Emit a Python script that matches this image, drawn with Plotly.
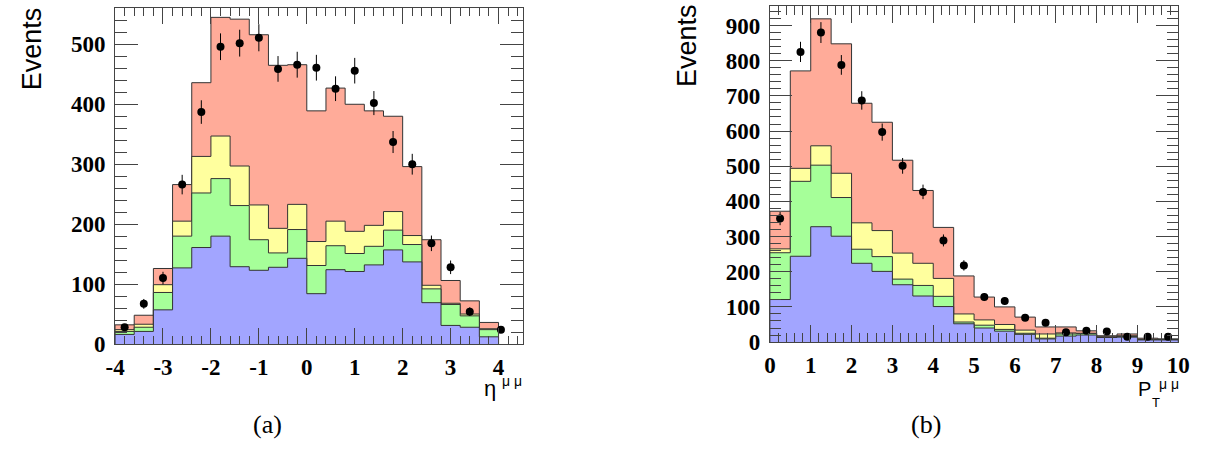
import numpy as np
import plotly.graph_objects as go

# ---------------- panel (a): dimuon pseudorapidity ----------------
eta_edges = [-4.0, -3.6, -3.2, -2.8, -2.4, -2.0, -1.6, -1.2, -0.8, -0.4,
             0.0, 0.4, 0.8, 1.2, 1.6, 2.0, 2.4, 2.8, 3.2, 3.6, 4.0]
eta_blue = [16, 21, 57, 127, 161, 180, 129, 123, 128, 143,
            84, 124, 121, 132, 157, 137, 69, 31, 28, 12]
eta_green = [5, 7, 29, 53, 91, 96, 102, 51, 24, 48,
             47, 40, 30, 31, 33, 29, 23, 35, 19, 12]
eta_yellow = [3, 5, 13, 25, 61, 71, 66, 58, 41, 42,
              40, 41, 37, 35, 31, 15, 6, 2, 3, 1.5]
eta_red = [8, 15, 27, 61, 123, 198, 245, 284, 272, 233,
           218, 222, 212, 191, 159, 115, 76, 38, 22, 10.5]
eta_data_x = [-3.8, -3.4, -3.0, -2.6, -2.2, -1.8, -1.4, -1.0, -0.6, -0.2,
              0.2, 0.6, 1.0, 1.4, 1.8, 2.2, 2.6, 3.0, 3.4, 4.05]
eta_data_y = [28, 67, 110, 266, 387, 496, 502, 511, 459, 466,
              461, 426, 456, 402, 337, 300, 168, 128, 54, 24]
eta_xticks = [-4, -3, -2, -1, 0, 1, 2, 3, 4]
eta_xtext = ["-4", "-3", "-2", "-1", "0", "1", "2", "3", "4"]
eta_yticks = [0, 100, 200, 300, 400, 500]

# ---------------- panel (b): dimuon transverse momentum ----------------
pt_edges = [0.0, 0.5, 1.0, 1.5, 2.0, 2.5, 3.0, 3.5, 4.0, 4.5, 5.0,
            5.5, 6.0, 6.5, 7.0, 7.5, 8.0, 8.5, 9.0, 9.5, 10.0]
pt_blue = [121, 244, 328, 301, 224, 201, 163, 131, 101, 52,
           40, 31, 22, 9, 17, 20, 13, 14, 6, 6]
pt_green = [133, 213, 175, 110, 40, 42, 16, 30, 29, 5,
            8, 5, 3, 2, 6, 4, 1, 2, 1, 1]
pt_yellow = [11, 37, 55, 69, 75, 74, 74, 63, 51, 23,
             15, 14, 9, 12, 3, 1, 1, 2, 1, 1]
pt_red = [107, 277, 361, 368, 340, 308, 264, 207, 145, 108,
          65, 50, 37, 20, 17, 7, 3, 5, 3, 1]
pt_data_x = [0.25, 0.75, 1.25, 1.75, 2.25, 2.75, 3.25, 3.75, 4.25, 4.75,
             5.25, 5.75, 6.25, 6.75, 7.25, 7.75, 8.25, 8.75, 9.25, 9.75]
pt_data_y = [351, 825, 880, 788, 687, 597, 501, 427, 289, 218,
             128, 117, 69, 55, 28, 32, 30, 15, 15, 15]
pt_xticks = [0, 1, 2, 3, 4, 5, 6, 7, 8, 9, 10]
pt_yticks = [0, 100, 200, 300, 400, 500, 600, 700, 800, 900]

FILL_RED = "#FFAB99"
FILL_YELLOW = "#FFFF9E"
FILL_GREEN = "#A6FF99"
FILL_BLUE = "#A2A5FF"
EDGE = "#333333"
FRAME = "#444444"

W, H = 1206, 461


def step_path(edges, vals):
    """Closed step outline of a histogram, including the end walls."""
    x = [edges[0]] + list(edges[:-1]) + [edges[-1], edges[-1]]
    y = [0] + list(vals) + [vals[-1], 0]
    return x, y


fig = go.Figure()


def add_stack(edges, layers, xa, ya):
    comps = np.array(layers, dtype=float)
    cum = np.cumsum(comps, axis=0)
    colors = [FILL_BLUE, FILL_GREEN, FILL_YELLOW, FILL_RED]
    # draw from the full stack down so each lower layer sits on top
    for level in range(len(layers) - 1, -1, -1):
        x, y = step_path(edges, cum[level])
        fig.add_trace(go.Scatter(
            x=x, y=y, mode="lines", line=dict(shape="hv", color=EDGE, width=1),
            fill="tozeroy", fillcolor=colors[level], hoverinfo="skip",
            showlegend=False, xaxis=xa, yaxis=ya))


def add_data(xs, ys, xa, ya):
    ys = np.array(ys, dtype=float)
    fig.add_trace(go.Scatter(
        x=xs, y=ys, mode="markers",
        marker=dict(color="black", size=8, symbol="circle"),
        error_y=dict(type="data", array=np.sqrt(ys), color="black",
                     thickness=1, width=0),
        showlegend=False, xaxis=xa, yaxis=ya))


add_stack(eta_edges, [eta_blue, eta_green, eta_yellow, eta_red], "x", "y")
add_data(eta_data_x, eta_data_y, "x", "y")
add_stack(pt_edges, [pt_blue, pt_green, pt_yellow, pt_red], "x2", "y2")
add_data(pt_data_x, pt_data_y, "x2", "y2")

tick_font = dict(family="Liberation Serif", size=23, color="black", weight="bold")


def xaxis_style(domain, rng, tickvals, ticktext, tick0, majlen, minlen, anchor):
    return dict(domain=domain, range=rng, tickmode="array", tickvals=tickvals,
                ticktext=ticktext, ticks="inside", ticklen=majlen, tickwidth=1,
                tickcolor=FRAME, showline=True, linecolor=FRAME, linewidth=1,
                mirror="ticks", showgrid=False, zeroline=False, tickfont=tick_font,
                anchor=anchor, ticklabelstandoff=2,
                minor=dict(tickmode="linear", tick0=tick0, dtick=0.2, ticks="inside",
                           ticklen=minlen, tickwidth=1, tickcolor=FRAME, showgrid=False))


def yaxis_style(domain, rng, tickvals, anchor, majlen, minlen):
    return dict(domain=domain, range=rng, tickmode="array", tickvals=tickvals,
                ticktext=[str(v) for v in tickvals], ticks="inside", ticklen=majlen,
                tickwidth=1, tickcolor=FRAME, showline=True, linecolor=FRAME,
                linewidth=1, mirror="ticks", showgrid=False, zeroline=False,
                tickfont=tick_font, anchor=anchor, ticklabelstandoff=4,
                minor=dict(tickmode="linear", tick0=0, dtick=20, ticks="inside",
                           ticklen=minlen, tickwidth=1, tickcolor=FRAME, showgrid=False))


fig.update_layout(
    width=W, height=H, margin=dict(l=0, r=0, t=0, b=0),
    paper_bgcolor="white", plot_bgcolor="white", showlegend=False,
    xaxis=xaxis_style([107 / W, 523 / W], [-4, 4.52], eta_xticks, eta_xtext,
                      -4, 16, 8, "y"),
    yaxis=yaxis_style([1 - 354 / H, 1 - 8 / H], [0, 561], eta_yticks, "x", 23, 12),
    xaxis2=xaxis_style([774 / W, 1190 / W], [0, 10], pt_xticks,
                       [str(v) for v in pt_xticks], 0, 17, 9, "y2"),
    yaxis2=yaxis_style([1 - 352 / H, 1 - 6 / H], [0, 956], pt_yticks, "x2", 22, 11),
)

sans = "Liberation Sans"
serif = "Liberation Serif"


def label(text, x, y, size, family, xanchor="center", yanchor="middle", angle=0):
    fig.add_annotation(text=text, x=x / W, y=1 - y / H, xref="paper", yref="paper",
                       xanchor=xanchor, yanchor=yanchor, showarrow=False,
                       textangle=angle, borderpad=0,
                       font=dict(family=family, size=size, color="black"))


# axis titles
label("Events", 22, 50, 27, sans, angle=-90)
label("Events", 689, 47, 27, sans, angle=-90)
label("η", 489, 400, 22, sans)
label("μ μ", 511, 392, 14, sans)
label("P", 1156, 400, 20, sans)
label("T", 1167, 414, 13, sans)
label("μ μ", 1181, 395, 14, sans)

# panel captions
label("(a)", 262, 437, 26, serif)
label("(b)", 933, 437, 26, serif)

fig.write_html("out.html")
